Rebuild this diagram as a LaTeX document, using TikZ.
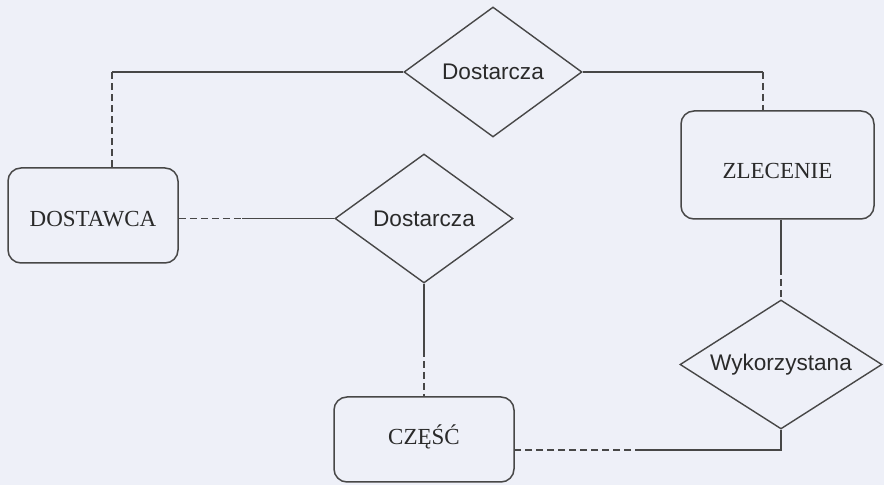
\documentclass[tikz,border=0pt]{standalone}
\usepackage{fontspec}
\setmainfont{Liberation Serif}
\newfontfamily\diafont{Liberation Sans}
\usetikzlibrary{shapes.geometric}
\definecolor{bgpaper}{HTML}{EEF0F8}
\definecolor{linegray}{HTML}{474747}
\definecolor{textgray}{HTML}{2A2A2A}

\begin{document}
\begin{tikzpicture}[x=0.5pt,y=-0.5pt,
  entity/.style={draw=linegray, line width=0.75pt, rounded corners=6.5pt, text=textgray, text depth=0pt, font={\fontsize{11.5}{13}\selectfont}},
  relation/.style={draw=linegray, line width=0.7pt, diamond, aspect=1.6, inner sep=0pt, text=textgray, font={\diafont\fontsize{11.3}{13}\selectfont}},
  link/.style={draw=linegray, line width=0.6pt},
  optlink/.style={link, dash pattern=on 3.5pt off 2pt}]
\path[use as bounding box, fill=bgpaper] (0,0) rectangle (884,485);
% entities
\node[entity, minimum width=85pt, minimum height=47.5pt, text height=11.1pt] (NDostawca) at (93,215.5) {DOSTAWCA};
\node[entity, minimum width=96.5pt, minimum height=54pt, text height=13.6pt] (NZlecenie) at (777.5,165) {ZLECENIE};
\node[entity, minimum width=90pt, minimum height=42.5pt, text height=4.6pt] (NCzesc) at (424,439.5) {CZĘŚĆ};
% relationships
\node[relation, minimum width=89pt, minimum height=65pt] (RDostTop) at (493,72) {Dostarcza};
\node[relation, minimum width=89pt, minimum height=64.5pt] (RDostMid) at (424,218.5) {Dostarcza};
\node[relation, minimum width=101pt, minimum height=64.5pt] (RWyk) at (781,364.5) {Wykorzystana};
% connectors
\coordinate (K1) at (112,72);
\draw[optlink] (NDostawca.north -| K1) -- (K1);
\draw[link] (K1) -- (RDostTop.west);
\coordinate (K2) at (763,72);
\draw[link] (RDostTop.east) -- (K2);
\draw[optlink] (K2) -- (NZlecenie.north -| K2);
\coordinate (K3) at (242,218.5);
\draw[optlink] (NDostawca.east |- K3) -- (K3);
\draw[link] (K3) -- (RDostMid.west);
\coordinate (K4) at (424,350);
\draw[link] (RDostMid.south) -- (K4);
\draw[optlink] (K4) -- (NCzesc.north);
\coordinate (K5) at (781,268);
\draw[link] (NZlecenie.south -| K5) -- (K5);
\draw[optlink] (K5) -- (RWyk.north);
\coordinate (K6) at (781,450);
\coordinate (K7) at (642,450);
\draw[link] (RWyk.south) -- (K6) -- (K7);
\draw[optlink] (K7) -- (NCzesc.east |- K7);
\end{tikzpicture}
\end{document}
